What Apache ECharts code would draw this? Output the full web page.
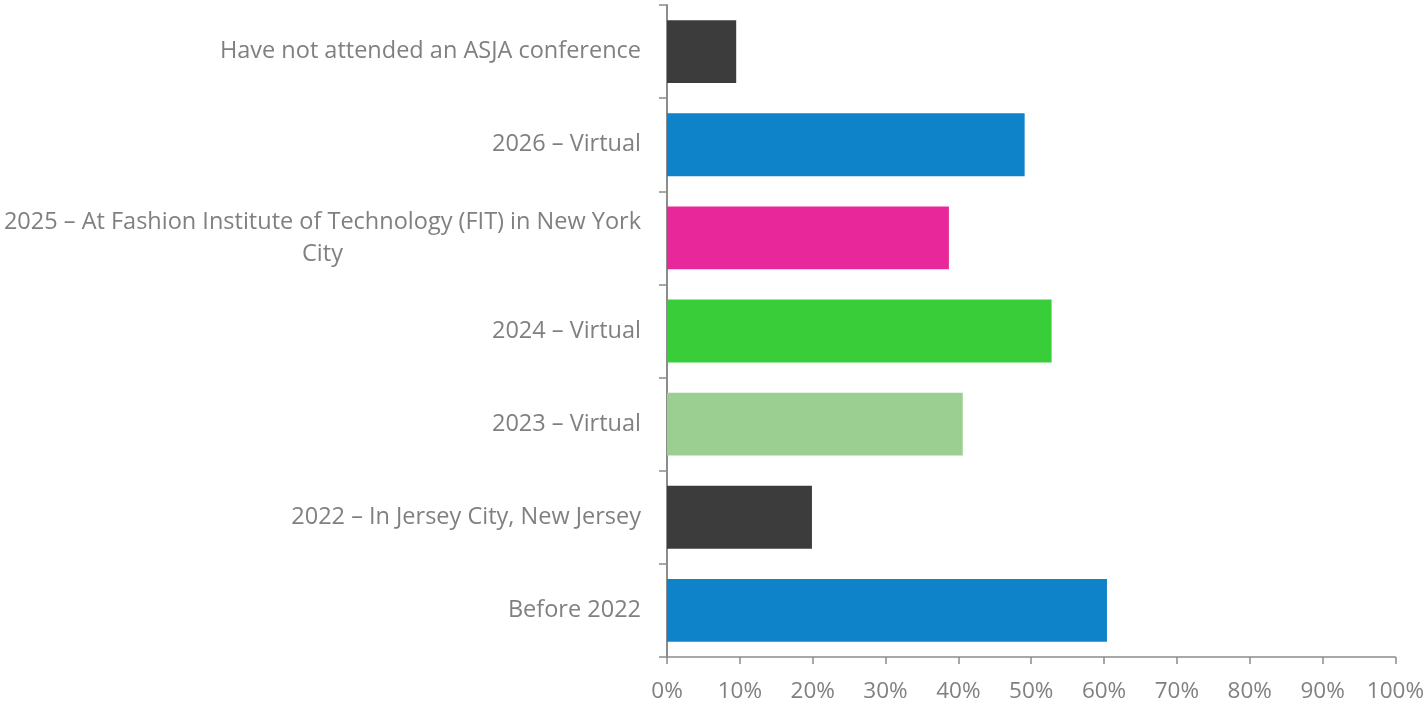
<!DOCTYPE html>
<html><head><meta charset="utf-8">
<script src="https://cdn.jsdelivr.net/npm/echarts@6/dist/echarts.min.js"></script>
<style>html,body{margin:0;padding:0;background:#fff}#c{width:1427px;height:703px}</style>
</head><body><div id="c"></div>
<script>
const categories = [
  "Have not attended an ASJA conference",
  "2026 – Virtual",
  "2025 – At Fashion Institute of Technology (FIT) in New York\nCity",
  "2024 – Virtual",
  "2023 – Virtual",
  "2022 – In Jersey City, New Jersey",
  "Before 2022"
];
const values = [9.5, 49.1, 38.7, 52.8, 40.6, 19.9, 60.4];
const colors = ["#3c3c3c", "#0e83c9", "#e7279a", "#39cd39", "#9bcf91", "#3c3c3c", "#0e83c9"];
const xTicks = [0, 10, 20, 30, 40, 50, 60, 70, 80, 90, 100];

const chart = echarts.init(document.getElementById('c'));
const font = "Open Sans";
const catSize = 23.5;
chart.setOption({
  animation: false,
  grid: {left: 667, right: 31, top: 5, bottom: 45},
  xAxis: {
    type: 'value', min: xTicks[0], max: xTicks[xTicks.length-1], interval: 10,
    axisLine: {show: true, lineStyle: {color: '#8c8c8c', width: 1.5}},
    axisTick: {show: true, length: 7, lineStyle: {color: '#8c8c8c', width: 1.5}},
    splitLine: {show: false},
    axisLabel: {formatter: v => v + '%', color: '#808080', fontSize: 22.5, fontFamily: font, margin: 23}
  },
  yAxis: {
    type: 'category', data: categories, inverse: true,
    axisLine: {show: true, lineStyle: {color: '#8c8c8c', width: 2}},
    axisTick: {show: true, length: 8, lineStyle: {color: '#8c8c8c', width: 1.5}},
    axisLabel: {
      color: '#808080', fontSize: catSize, fontFamily: font, margin: 26, lineHeight: 32,
      formatter: function (v) {
        if (v.indexOf('\n') >= 0) {
          const p = v.split('\n');
          return '{a|' + p[0] + '}\n{b|' + p[1] + '}';
        }
        return v;
      },
      rich: {
        a: {color: '#808080', fontSize: catSize, fontFamily: font, lineHeight: 32},
        b: {color: '#808080', fontSize: catSize, fontFamily: font, lineHeight: 32, align: 'center'}
      }
    }
  },
  series: [{
    type: 'bar',
    data: values.map((v, i) => ({value: v, itemStyle: {color: colors[i]}})),
    barCategoryGap: '32.5%'
  }]
});
</script></body></html>
